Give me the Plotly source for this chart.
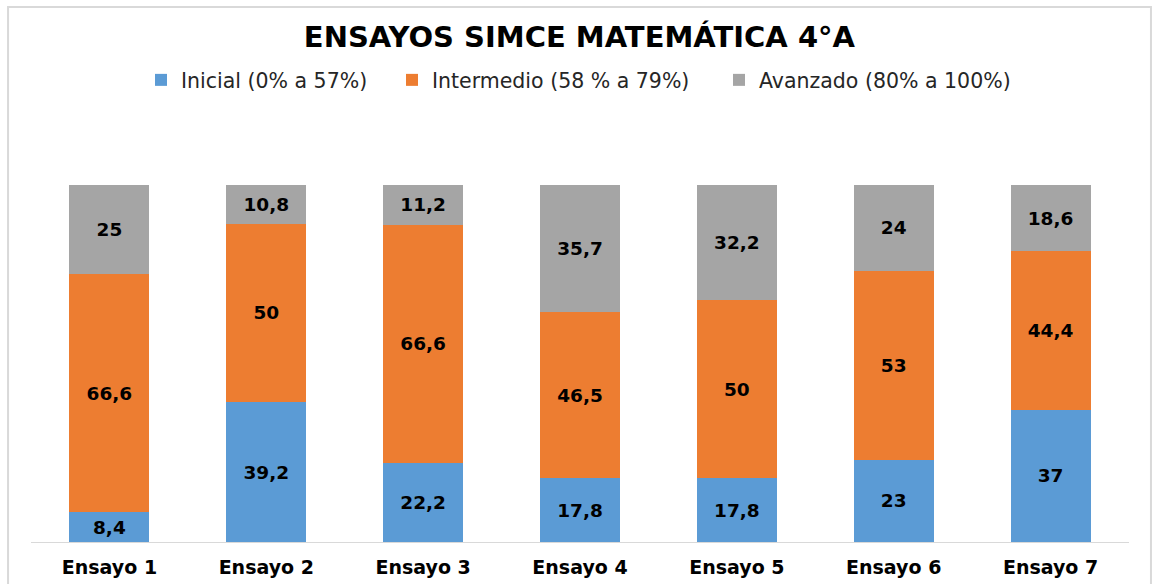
import plotly.graph_objects as go

ensayos = ["Ensayo 1", "Ensayo 2", "Ensayo 3", "Ensayo 4", "Ensayo 5", "Ensayo 6", "Ensayo 7"]
inicial = [8.4, 39.2, 22.2, 17.8, 17.8, 23, 37]
intermedio = [66.6, 50, 66.6, 46.5, 50, 53, 44.4]
avanzado = [25, 10.8, 11.2, 35.7, 32.2, 24, 18.6]

series = [
    ("Inicial (0% a 57%)", inicial, "#5B9BD5"),
    ("Intermedio (58 % a 79%)", intermedio, "#ED7D31"),
    ("Avanzado (80% a 100%)", avanzado, "#A5A5A5"),
]

# one legend box per series so the entries can be spaced like the original
legend_ids = ["legend", "legend2", "legend3"]
legend_x = [0.1002, 0.3288, 0.6266]

def fmt(v):
    # comma as decimal separator, like the original sheet
    return ("%g" % v).replace(".", ",")

fig = go.Figure()
for (name, vals, color), lid in zip(series, legend_ids):
    fig.add_trace(go.Bar(
        x=ensayos, y=vals, name=name, legend=lid, showlegend=True,
        marker=dict(color=color, line_width=0),
        text=[fmt(v) for v in vals],
        textposition="inside",
        insidetextanchor="middle",
        textangle=0,
        textfont=dict(family="DejaVu Sans", size=18.5, color="#000000", weight="bold"),
        hoverinfo="skip",
    ))

# thin gray frame around the chart area, like the spreadsheet chart
fig.add_shape(type="rect", xref="paper", yref="paper",
              x0=-0.0209, x1=1.02, y0=-0.3, y1=1.4986,
              line=dict(color="#D9D9D9", width=2), layer="below")

legend_style = dict(orientation="h", xanchor="left", y=1.294, yanchor="middle",
                    font=dict(family="DejaVu Sans", size=20.5, color="#262626"),
                    itemwidth=30, bgcolor="rgba(0,0,0,0)")

fig.update_layout(
    width=1152, height=584,
    showlegend=True,
    barmode="stack",
    bargap=0.49,
    paper_bgcolor="white", plot_bgcolor="white",
    margin=dict(l=31, r=23, t=185, b=42),
    title=dict(text="<b>ENSAYOS SIMCE MATEMÁTICA 4°A</b>", x=0.503, xanchor="center",
               y=1 - 37 / 584, yanchor="middle",
               font=dict(family="DejaVu Sans", size=29, color="#000000")),
    legend=dict(x=legend_x[0], **legend_style),
    legend2=dict(x=legend_x[1], **legend_style),
    legend3=dict(x=legend_x[2], **legend_style),
    xaxis=dict(showline=True, linecolor="#D9D9D9", linewidth=1, ticks="",
               tickfont=dict(family="DejaVu Sans", size=19, color="#000000", weight="bold"),
               ticklabelstandoff=8, showgrid=False, automargin=False),
    yaxis=dict(range=[0, 100], visible=False, showgrid=False, automargin=False),
)

# drop the browser's default 8px body margin so the figure sits at the page corner
fig.write_html("out.html", config={"displayModeBar": False},
               post_script="document.body.style.margin='0';")
